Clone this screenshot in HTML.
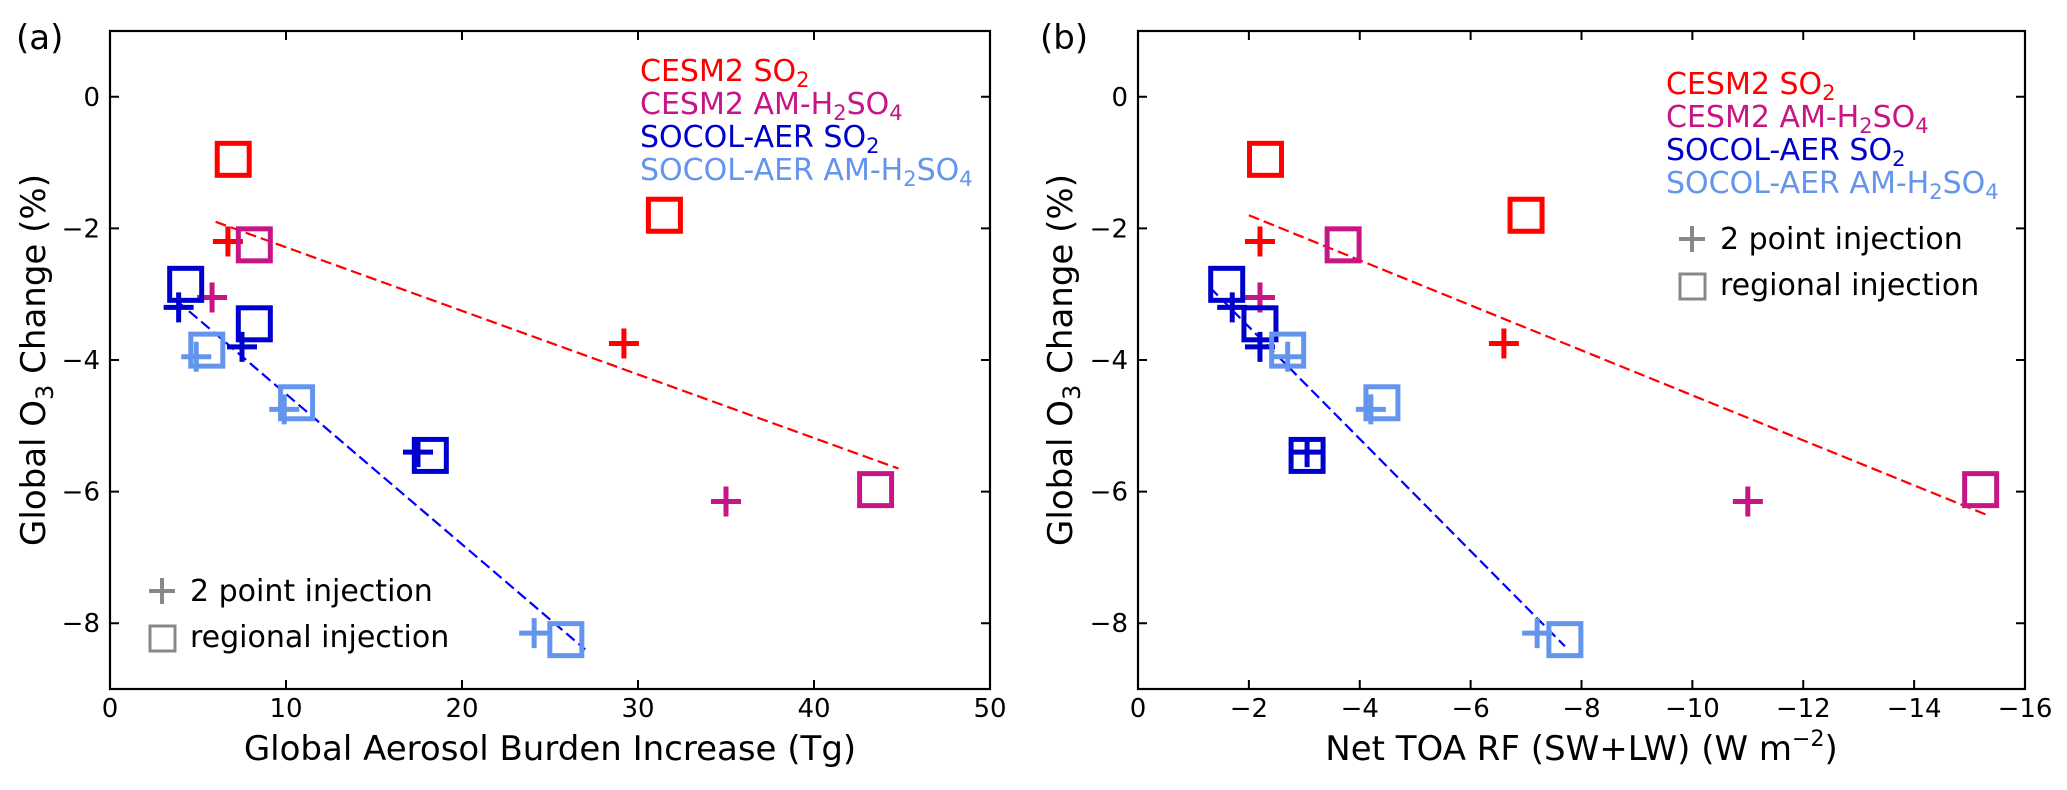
<!DOCTYPE html>
<html><head><meta charset="utf-8">
<style>
html,body{margin:0;padding:0;background:#fff;}
svg{display:block;font-family:"DejaVu Sans","Liberation Sans",sans-serif;}
</style></head>
<body>
<svg id="fig" width="2067" height="790" viewBox="0 0 2067 790" xmlns="http://www.w3.org/2000/svg"></svg>
<script>
// ---- data ----
const seriesNames = ["CESM2 SO2","CESM2 AM-H2SO4","SOCOL-AER SO2","SOCOL-AER AM-H2SO4"];
const seriesColors = ["#ff0000","#c71585","#0000cd","#6495ed"];
// Panel (a): aerosol burden (Tg) vs O3 change (%)
const aSqX = [[7.0,31.5],[8.2,43.5],[4.3,8.2,18.2],[5.5,10.6,25.9]];
const aSqY = [[-0.95,-1.8],[-2.25,-5.97],[-2.85,-3.45,-5.45],[-3.85,-4.65,-8.25]];
const aCrX = [[6.7,29.2],[5.8,35.0],[3.9,7.5,17.5],[4.9,9.9,24.1]];
const aCrY = [[-2.2,-3.75],[-3.05,-6.15],[-3.2,-3.8,-5.4],[-3.95,-4.75,-8.15]];
const aFitRed = [[6.0,-1.9],[44.8,-5.65]];
const aFitBlue = [[3.8,-3.1],[27.0,-8.4]];
// Panel (b): net TOA RF vs O3 change
const bSqX = [[-2.3,-7.0],[-3.7,-15.2],[-1.6,-2.2,-3.05],[-2.7,-4.4,-7.7]];
const bSqY = [[-0.95,-1.8],[-2.25,-5.97],[-2.85,-3.45,-5.45],[-3.85,-4.65,-8.25]];
const bCrX = [[-2.2,-6.6],[-2.2,-11.0],[-1.7,-2.2,-3.05],[-2.7,-4.2,-7.2]];
const bCrY = [[-2.2,-3.75],[-3.05,-6.15],[-3.2,-3.8,-5.4],[-3.95,-4.75,-8.15]];
const bFitRed = [[-2.0,-1.8],[-15.3,-6.35]];
const bFitBlue = [[-1.3,-2.9],[-7.7,-8.35]];
const yTicks = [0,-2,-4,-6,-8];
const aXTicks = [0,10,20,30,40,50];
const bXTicks = [0,-2,-4,-6,-8,-10,-12,-14,-16];

const NS="http://www.w3.org/2000/svg";
const svg=document.getElementById('fig');
function mk(tag,attrs,parent){const e=document.createElementNS(NS,tag);for(const k in attrs)e.setAttribute(k,attrs[k]);(parent||svg).appendChild(e);return e;}
const fmt=v=>v<0?'\u2212'+Math.abs(v):String(v);

function panel(cfg){
  const g=mk('g',{});
  
  
  const L=cfg.left,R=cfg.right,T=31,B=689;
  const xs=v=>L+(v-cfg.x0)/(cfg.x1-cfg.x0)*(R-L);
  const ys=v=>T+(1-v)/10*(B-T);
  [[cfg.fitRed,'#ff0000','fit-line-cesm2'],[cfg.fitBlue,'#0000ff','fit-line-socol']].forEach(f=>{
    const l=mk('line',{x1:xs(f[0][0][0]),y1:ys(f[0][0][1]),x2:xs(f[0][1][0]),y2:ys(f[0][1][1]),stroke:f[1],'stroke-width':2.2,'stroke-dasharray':'11,5'},g);
    
    
  });
  for(let s=0;s<4;s++){
    const c=seriesColors[s];
    cfg.sqX[s].forEach((xv,i)=>{
      const r=mk('rect',{x:xs(xv)-16,y:ys(cfg.sqY[s][i])-16,width:32,height:32,fill:'none',stroke:c,'stroke-width':5},g);
      
      
    });
    cfg.crX[s].forEach((xv,i)=>{
      const cx=xs(xv),cy=ys(cfg.crY[s][i]);
      const p=mk('path',{d:`M${cx-15},${cy}H${cx+15}M${cx},${cy-15}V${cy+15}`,stroke:c,'stroke-width':5,fill:'none'},g);
      
      
    });
  }
  const fr=mk('rect',{x:L,y:T,width:R-L,height:B-T,fill:'none',stroke:'#000','stroke-width':2.2},g);
  
  
  cfg.xTicks.forEach(v=>{
    const x=xs(v);
    mk('path',{d:`M${x},${B}v-9M${x},${T}v9`,stroke:'#000','stroke-width':2},g);
    const t=mk('text',{x:x,y:717,'font-size':26,'text-anchor':'middle'},g);
    t.textContent=fmt(v);
    
    
  });
  yTicks.forEach(v=>{
    const y=ys(v);
    mk('path',{d:`M${L},${y}h9M${R},${y}h-9`,stroke:'#000','stroke-width':2},g);
    const t=mk('text',{x:L-10,y:y+9,'font-size':26,'text-anchor':'end'},g);
    t.textContent=fmt(v);
    
    
  });
  const yt=mk('text',{x:0,y:0,'font-size':34,'text-anchor':'middle',transform:`translate(${cfg.ytX},${(T+B)/2}) rotate(-90)`},g);
  yt.innerHTML='Global O<tspan font-size="24" dy="8">3</tspan><tspan dy="-8"> Change (%)</tspan>';
  
  
  const xt=mk('text',{x:(L+R)/2,y:760,'font-size':34,'text-anchor':'middle'},g);
  xt.innerHTML=cfg.xTitle;
  
  
  const pl=mk('text',{x:cfg.plX,y:49,'font-size':34},g);
  pl.textContent=cfg.label;
  
  
  const lbls=['CESM2 SO<tspan font-size="21" dy="6">2</tspan>',
    'CESM2 AM-H<tspan font-size="21" dy="6">2</tspan><tspan dy="-6">SO</tspan><tspan font-size="21" dy="6">4</tspan>',
    'SOCOL-AER SO<tspan font-size="21" dy="6">2</tspan>',
    'SOCOL-AER AM-H<tspan font-size="21" dy="6">2</tspan><tspan dy="-6">SO</tspan><tspan font-size="21" dy="6">4</tspan>'];
  lbls.forEach((h,i)=>{
    const t=mk('text',{x:cfg.legX,y:cfg.legY+i*33,'font-size':30,fill:seriesColors[i]},g);
    t.innerHTML=h;
    
    
  });
  const mx=cfg.mkX,my=cfg.mkY;
  mk('path',{d:`M${mx-13},${my}H${mx+13}M${mx},${my-13}V${my+13}`,stroke:'#888','stroke-width':4},g);
  mk('rect',{x:mx-12,y:my+47-12,width:25,height:25,fill:'none',stroke:'#888','stroke-width':3},g);
  const t1=mk('text',{x:mx+28,y:my+10,'font-size':30},g);
  t1.textContent='2 point injection';
  
  
  const t2=mk('text',{x:mx+28,y:my+56,'font-size':30},g);
  t2.textContent='regional injection';
  
  
}

panel({name:'panel-a',left:110,right:990,x0:0,x1:50,xTicks:aXTicks,sqX:aSqX,sqY:aSqY,crX:aCrX,crY:aCrY,
  fitRed:aFitRed,fitBlue:aFitBlue,ytX:45,plX:16,label:'(a)',legX:640,legY:81,mkX:162,mkY:591,
  xTitle:'Global Aerosol Burden Increase (Tg)'});
panel({name:'panel-b',left:1138,right:2025,x0:0,x1:-16,xTicks:bXTicks,sqX:bSqX,sqY:bSqY,crX:bCrX,crY:bCrY,
  fitRed:bFitRed,fitBlue:bFitBlue,ytX:1072,plX:1040,label:'(b)',legX:1666,legY:94,mkX:1692,mkY:239,
  xTitle:'Net TOA RF (SW+LW) (W m<tspan font-size="22" dy="-14">\u22122</tspan><tspan dy="14">)</tspan>'});
</script>
</body></html>
